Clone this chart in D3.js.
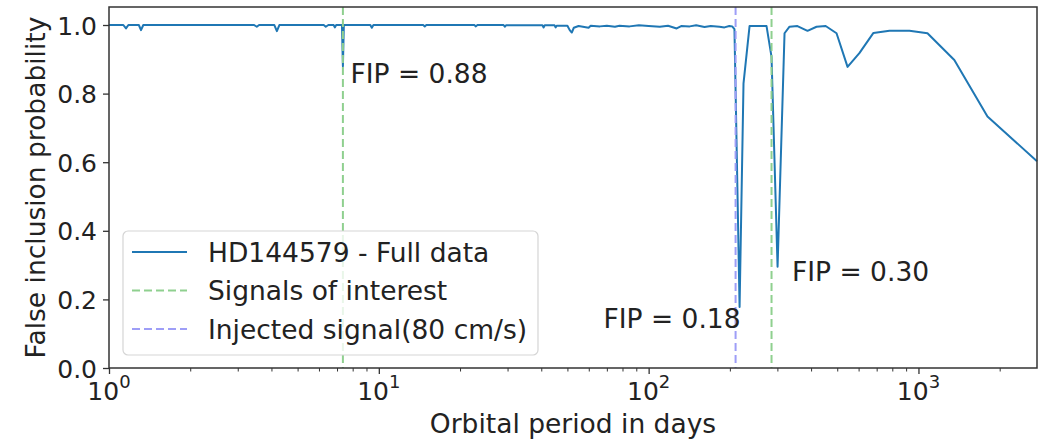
<!DOCTYPE html>
<html lang="en">
	<head>
		<meta charset="utf-8">
		<title>FIP periodogram</title>
		<script src="https://d3js.org/d3.v7.min.js"></script>
		<style>
			body { margin: 0; background: #fff; }
			text { font-family: "DejaVu Sans", sans-serif; fill: #222; }
		</style>
	</head>
	<body>
		<script type="text/javascript">

			// data
			var periods = [1.0, 1.13, 1.156, 1.18, 1.29, 1.314, 1.34, 3.45, 3.53, 3.6, 4.1, 4.19, 4.28,
				6.25, 6.36, 6.5, 6.8, 6.87, 6.95, 7.30, 7.36, 7.42, 9.3, 9.42, 9.55, 14.6, 14.8, 15.0,
				22.6, 22.9, 23.2, 29.0, 29.3, 29.6, 40.4, 40.8, 41.2, 44.8, 45.2, 45.6, 50, 51, 51.9, 52.8,
				55, 59.9, 61, 66, 70, 75, 78, 85, 92, 100, 110, 118, 127, 132, 142, 150, 161, 170, 183,
				191, 199, 204, 208, 217.3, 224.7, 236.6, 273.5, 285.4, 300.5, 318.9, 332.8, 356, 388,
				419, 453, 497, 546, 604, 681, 781, 926, 1080, 1358, 1802, 2750];
			var fip = [1.0, 1.0, 0.99, 1.0, 1.0, 0.985, 1.0, 1.0, 0.995, 1.0, 1.0, 0.982, 1.0,
				1.0, 0.995, 1.0, 1.0, 0.993, 1.0, 1.0, 0.88, 1.0, 1.0, 0.992, 1.0, 1.0, 0.996, 1.0,
				1.0, 0.996, 1.0, 1.0, 0.995, 0.999, 0.999, 0.993, 0.999, 0.999, 0.993, 0.998, 0.998, 0.985, 0.978, 0.992,
				0.997, 0.992, 0.998, 0.996, 0.998, 0.995, 0.998, 0.996, 0.999, 0.997, 0.995, 0.998, 0.99, 0.997, 0.996, 0.999, 0.994, 0.997, 0.995,
				0.993, 0.997, 0.996, 0.988, 0.178, 0.83, 0.997, 0.997, 0.907, 0.295, 0.976, 0.995, 0.997, 0.983,
				0.995, 0.997, 0.976, 0.878, 0.918, 0.977, 0.983, 0.983, 0.976, 0.898, 0.733, 0.603];

			var signalPeriods = [7.36, 285.4];
			var injectedPeriod = [210];

			var annotations = [
				{label: "FIP = 0.88", p: 7.85, v: 0.831},
				{label: "FIP = 0.18", p: 68, v: 0.117},
				{label: "FIP = 0.30", p: 340, v: 0.254}
			];

			var yTicks = [0.0, 0.2, 0.4, 0.6, 0.8, 1.0];
			var xTickExps = [0, 1, 2, 3];

			// size and plot box
			var w = 1048;
			var h = 443;
			var pLeft = 109, pRight = 1037, pTop = 7, pBottom = 368;

			var xScale = d3.scaleLog()
				.domain([1, 2750])
				.range([pLeft, pRight]);

			var yScale = d3.scaleLinear()
				.domain([0, 1.0525])
				.range([pBottom, pTop]);

			var svg = d3.select("body").append("svg").attr("width", w).attr("height", h);

			// data line
			var line = d3.line()
				.x(function(d) { return xScale(d[0]); })
				.y(function(d) { return yScale(d[1]); });

			svg.append("path")
				.datum(d3.zip(periods, fip))
				.attr("d", line)
				.attr("fill", "none")
				.attr("stroke", "#1f77b4")
				.attr("stroke-width", 2)
				.attr("stroke-linejoin", "round");

			// vertical signal lines
			svg.selectAll(".sig")
				.data(signalPeriods)
				.enter()
				.append("line")
				.attr("x1", function(d) { return xScale(d); })
				.attr("x2", function(d) { return xScale(d); })
				.attr("y1", pTop).attr("y2", pBottom)
				.attr("stroke", "#8fd08f")
				.attr("stroke-width", 2)
				.attr("stroke-dasharray", "8,4");

			svg.selectAll(".inj")
				.data(injectedPeriod)
				.enter()
				.append("line")
				.attr("x1", function(d) { return xScale(d); })
				.attr("x2", function(d) { return xScale(d); })
				.attr("y1", pTop).attr("y2", pBottom)
				.attr("stroke", "#9e9ef7")
				.attr("stroke-width", 2)
				.attr("stroke-dasharray", "8,4");

			// annotations
			svg.selectAll(".ann")
				.data(annotations)
				.enter()
				.append("text")
				.attr("x", function(d) { return xScale(d.p); })
				.attr("y", function(d) { return yScale(d.v); })
				.attr("font-size", 26.5)
				.text(function(d) { return d.label; });

			// axes
			var yAxis = d3.axisLeft(yScale)
				.tickValues(yTicks)
				.tickFormat(d3.format(".1f"))
				.tickSize(6)
				.tickPadding(6);

			var gy = svg.append("g")
				.attr("transform", "translate(" + pLeft + ",0)")
				.call(yAxis);
			gy.select(".domain").remove();
			gy.selectAll("text").attr("font-size", 25).attr("fill", "#222").attr("dy", "0.36em");
			gy.selectAll("line").attr("stroke", "#333").attr("stroke-width", 1.3);

			var minor = [];
			for (var e = 0; e < 4; e++) {
				for (var k = 2; k < 10; k++) {
					var v = k * Math.pow(10, e);
					if (v < 2750) minor.push(v);
				}
			}

			var xMinor = d3.axisBottom(xScale).tickValues(minor).tickSize(3.5).tickFormat("");
			var gxm = svg.append("g").attr("transform", "translate(0," + pBottom + ")").call(xMinor);
			gxm.select(".domain").remove();
			gxm.selectAll("line").attr("stroke", "#333").attr("stroke-width", 1);

			var xAxis = d3.axisBottom(xScale)
				.tickValues(xTickExps.map(function(d) { return Math.pow(10, d); }))
				.tickSize(6)
				.tickFormat("");
			var gx = svg.append("g").attr("transform", "translate(0," + pBottom + ")").call(xAxis);
			gx.select(".domain").remove();
			gx.selectAll("line").attr("stroke", "#333").attr("stroke-width", 1.3);

			var xl = svg.selectAll(".xlab")
				.data(xTickExps)
				.enter()
				.append("text")
				.attr("x", function(d) { return xScale(Math.pow(10, d)); })
				.attr("y", 400)
				.attr("text-anchor", "middle")
				.attr("font-size", 25);
			xl.append("tspan").text("10");
			xl.append("tspan")
				.attr("font-size", 18)
				.attr("dy", -12)
				.text(function(d) { return d; });

			// frame
			svg.append("rect")
				.attr("x", pLeft).attr("y", pTop)
				.attr("width", pRight - pLeft).attr("height", pBottom - pTop)
				.attr("fill", "none")
				.attr("stroke", "#333")
				.attr("stroke-width", 1.5);

			// axis labels
			svg.append("text")
				.attr("x", (pLeft + pRight) / 2)
				.attr("y", 433)
				.attr("text-anchor", "middle")
				.attr("font-size", 26.5)
				.text("Orbital period in days");

			svg.append("text")
				.attr("transform", "translate(45," + (pTop + pBottom) / 2 + ") rotate(-90)")
				.attr("text-anchor", "middle")
				.attr("font-size", 26.5)
				.text("False inclusion probability");

			// legend
			var legendItems = [
				{label: "HD144579 - Full data", color: "#1f77b4", dash: null},
				{label: "Signals of interest", color: "#8fd08f", dash: "8,4"},
				{label: "Injected signal(80 cm/s)", color: "#9e9ef7", dash: "8,4"}
			];

			var lg = svg.append("g").attr("transform", "translate(123,231)");
			lg.append("rect")
				.attr("width", 415).attr("height", 124)
				.attr("rx", 5)
				.attr("fill", "white").attr("fill-opacity", 0.8)
				.attr("stroke", "#d5d5d5").attr("stroke-width", 1.2);

			var rows = lg.selectAll(".row")
				.data(legendItems)
				.enter()
				.append("g")
				.attr("transform", function(d, i) { return "translate(0," + (21 + i * 38.5) + ")"; });

			rows.append("line")
				.attr("x1", 9).attr("x2", 64)
				.attr("stroke", function(d) { return d.color; })
				.attr("stroke-width", 2)
				.attr("stroke-dasharray", function(d) { return d.dash; });

			rows.append("text")
				.attr("x", 85)
				.attr("dy", "0.36em")
				.attr("font-size", 26.5)
				.text(function(d) { return d.label; });

		</script>
	</body>
</html>
